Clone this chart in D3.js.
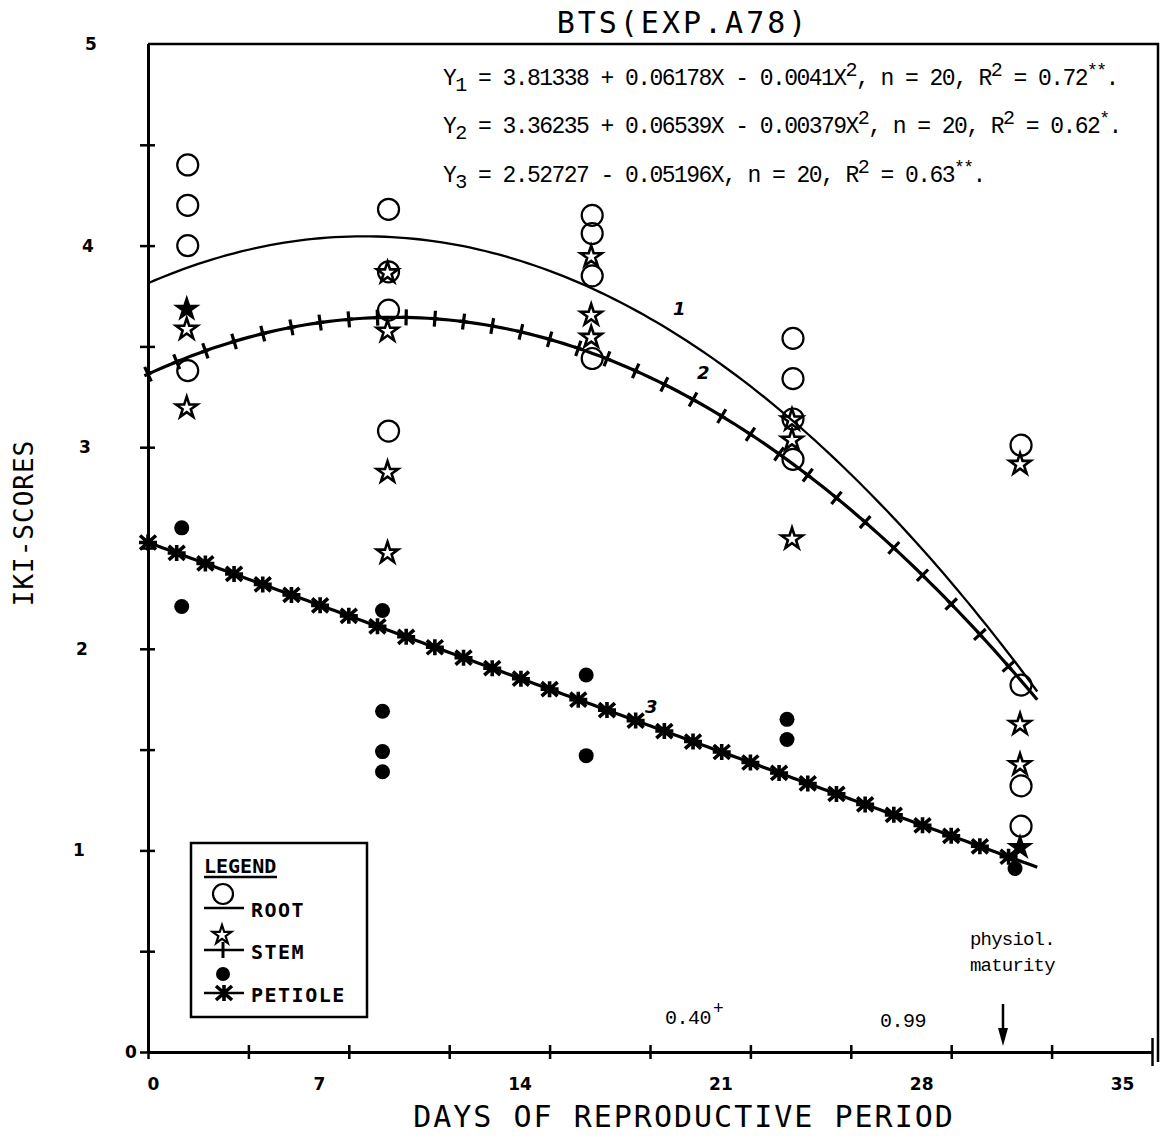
<!DOCTYPE html>
<html>
<head>
<meta charset="utf-8">
<script src="https://cdn.jsdelivr.net/npm/d3@7"></script>
<style>
  body { margin: 0; background: #fff; }
  svg { display: block; }
  .plot { font-family: "DejaVu Sans Mono", monospace; fill: #000; }
  .type { font-family: "Liberation Mono", "DejaVu Sans Mono", monospace; fill: #000; }
</style>
</head>
<body>
<div id="chart"></div>
<script>
// harvest days (x) of the five samplings
const sampleDays = [1.35, 8.35, 15.45, 22.45, 30.4];

// IKI scores per sampling
const rootScores = [
  [4.40, 4.20, 4.00, 3.38],
  [4.18, 3.87, 3.68, 3.08],
  [4.15, 4.06, 3.85, 3.44],
  [3.54, 3.34, 3.14, 2.94],
  [3.01, 1.82, 1.32, 1.12]
];
const stemScores = [
  [3.59, 3.20],
  [3.87, 3.58, 2.88, 2.48],
  [3.95, 3.66, 3.55],
  [3.14, 3.04, 2.55],
  [2.92, 1.63, 1.43]
];
const stemFilled = [[3.69], [], [], [], [1.02]];
const petioleScores = [
  [2.60, 2.21],
  [2.19, 1.69, 1.49, 1.39],
  [1.87, 1.47],
  [1.65, 1.55],
  [0.91]
];

// regression coefficients a + bX + cX^2 (from the printed equations)
const rootFit = [3.81338, 0.06178, -0.0041];
const stemFit = [3.36235, 0.06539, -0.00379];
const petioleFit = [2.52727, -0.05196, 0];
const fitEnd = 31;

const xTicks = d3.range(0, 35.01, 3.5);
const xLabels = [0, 7, 14, 21, 28, 35];
const yTicks = d3.range(0, 4.51, 0.5);
const yLabels = [0, 1, 2, 3, 4, 5];

const equations = [
  [["Y", ""], ["1", "sub"], [" = 3.81338 + 0.06178X - 0.0041X", ""], ["2", "sup"], [", n = 20, R", ""], ["2", "sup"], [" = 0.72", ""], ["**", "sup"], [".", ""]],
  [["Y", ""], ["2", "sub"], [" = 3.36235 + 0.06539X - 0.00379X", ""], ["2", "sup"], [", n = 20, R", ""], ["2", "sup"], [" = 0.62", ""], ["*", "sup"], [".", ""]],
  [["Y", ""], ["3", "sub"], [" = 2.52727 - 0.05196X, n = 20, R", ""], ["2", "sup"], [" = 0.63", ""], ["**", "sup"], [".", ""]]
];

const W = 1175, H = 1137;
const svg = d3.select("#chart").append("svg")
  .attr("width", W).attr("height", H);

const x = d3.scaleLinear().domain([0, 35]).range([148, 1152]);
const y = d3.scaleLinear().domain([0, 5]).range([1052, 44]);

const poly = (c, t) => c[0] + c[1] * t + c[2] * t * t;

// frame (top and right)
svg.append("path")
  .attr("d", `M${x(0)},${y(5)}H${x(35) + 6}V${y(0) + 10}`)
  .attr("fill", "none").attr("stroke", "#000").attr("stroke-width", 2.5);

// x axis
const xAxis = svg.append("g")
  .attr("class", "plot")
  .attr("transform", `translate(0,${y(0)})`)
  .call(d3.axisBottom(x).tickValues(xTicks).tickSizeOuter(0)
    .tickFormat(d => xLabels.includes(d) ? d : ""));
xAxis.select(".domain").attr("stroke-width", 3);
xAxis.selectAll(".tick line").attr("y1", -7).attr("y2", 7).attr("stroke-width", 2.5);
xAxis.selectAll(".tick line").filter(d => d === 35).attr("y1", -14).attr("y2", 14);
xAxis.selectAll(".tick text")
  .attr("y", 26)
  .attr("dx", d => d === 0 ? 5 : -30)
  .attr("font-size", 17).attr("font-weight", "bold")
  .attr("font-family", "DejaVu Sans, sans-serif");

// y axis
const yAxis = svg.append("g")
  .attr("transform", `translate(${x(0)},0)`)
  .call(d3.axisLeft(y).tickValues(yTicks).tickSizeOuter(0).tickFormat(""));
yAxis.select(".domain").attr("d", `M0.5,${y(5)}V${y(0)}`).attr("stroke-width", 3);
yAxis.selectAll(".tick line").attr("x1", -8).attr("x2", 7).attr("stroke-width", 2.5);

svg.selectAll(".ylab").data(yLabels).join("text")
  .attr("class", "ylab")
  .attr("x", d => d === 0 ? 131 : 76 + d * 3)
  .attr("y", d => y(d) + 6)
  .attr("text-anchor", "middle")
  .attr("font-family", "DejaVu Sans, sans-serif")
  .attr("font-weight", "bold").attr("font-size", 17)
  .text(d => d);

// titles
svg.append("text").attr("class", "plot")
  .attr("x", 683).attr("y", 33).attr("text-anchor", "middle")
  .attr("font-size", 30).attr("letter-spacing", 3)
  .text("BTS(EXP.A78)");

svg.append("text").attr("class", "plot")
  .attr("transform", "translate(33,523) rotate(-90)")
  .attr("text-anchor", "middle")
  .attr("font-size", 26).attr("letter-spacing", 1)
  .text("IKI-SCORES");

svg.append("text").attr("class", "plot")
  .attr("x", 684).attr("y", 1127).attr("text-anchor", "middle")
  .attr("font-size", 30).attr("letter-spacing", 2)
  .text("DAYS OF REPRODUCTIVE PERIOD");

// equations
const eqBase = [85, 133, 182];
equations.forEach((parts, i) => {
  const t = svg.append("text").attr("class", "type")
    .attr("x", 443).attr("y", eqBase[i])
    .attr("font-size", 23).attr("letter-spacing", -1.55);
  let shift = 0;
  parts.forEach(([s, kind]) => {
    const target = kind === "sub" ? 6 : kind === "sup" ? -9 : 0;
    const sp = t.append("tspan").text(s).attr("dy", target - shift);
    shift = target;
    if (kind) sp.attr("font-size", s.includes("*") ? 18 : 20);
  });
});

// fitted curves
const fitDays = d3.range(0, fitEnd + 0.001, 0.25);
const markerDays = d3.range(0, fitEnd, 1);
const line = c => d3.line().x(t => x(t)).y(t => y(poly(c, t)))(fitDays);

svg.append("path").attr("d", line(rootFit))
  .attr("fill", "none").attr("stroke", "#000").attr("stroke-width", 2.3);
svg.append("path").attr("d", line(stemFit))
  .attr("fill", "none").attr("stroke", "#000").attr("stroke-width", 3.2);
svg.append("path").attr("d", line(petioleFit))
  .attr("fill", "none").attr("stroke", "#000").attr("stroke-width", 3.2);

const kx = (y(0) - y(1)) / (x(1) - x(0));
svg.selectAll(".plusMark").data(markerDays).join("path")
  .attr("class", "plusMark")
  .attr("d", "M0,-8V8M-4,0H4")
  .attr("transform", t => {
    const ang = Math.atan(-(stemFit[1] + 2 * stemFit[2] * t) * kx) * 180 / Math.PI;
    return `translate(${x(t)},${y(poly(stemFit, t))}) rotate(${ang})`;
  })
  .attr("stroke", "#000").attr("stroke-width", 3.2);

svg.selectAll(".astMark").data(markerDays).join("path")
  .attr("class", "astMark")
  .attr("d", "M-8,-7L8,7M-8,7L8,-7M0,-8V8M-9,0H9")
  .attr("transform", t => `translate(${x(t)},${y(poly(petioleFit, t))})`)
  .attr("stroke", "#000").attr("stroke-width", 3.6);

// curve numbers
[["1", 673, 315], ["2", 697, 379], ["3", 645, 713]].forEach(([s, px, py]) => {
  svg.append("text").attr("x", px).attr("y", py)
    .attr("font-family", "DejaVu Sans, sans-serif").attr("font-weight", "bold")
    .attr("font-style", "italic").attr("font-size", 18).text(s);
});

// data points
const flat = (arr) => arr.flatMap((vals, i) => vals.map(v => ({ day: sampleDays[i], v })));
const star = d3.symbol(d3.symbolStar, 140);

svg.selectAll(".root").data(flat(rootScores)).join("circle")
  .attr("class", "root")
  .attr("cx", d => x(d.day) + 1).attr("cy", d => y(d.v)).attr("r", 10.5)
  .attr("fill", "none").attr("stroke", "#000").attr("stroke-width", 2.2);

svg.selectAll(".stem").data(flat(stemScores)).join("path")
  .attr("class", "stem")
  .attr("d", star)
  .attr("transform", d => `translate(${x(d.day)},${y(d.v) + 1})`)
  .attr("fill", "none").attr("stroke", "#000").attr("stroke-width", 2.6);

svg.selectAll(".stemF").data(flat(stemFilled)).join("path")
  .attr("class", "stemF")
  .attr("d", star)
  .attr("transform", d => `translate(${x(d.day)},${y(d.v) + 1})`)
  .attr("fill", "#000").attr("stroke", "#000").attr("stroke-width", 2);

svg.selectAll(".petiole").data(flat(petioleScores)).join("circle")
  .attr("class", "petiole")
  .attr("cx", d => x(d.day) - 5).attr("cy", d => y(d.v)).attr("r", 7.5)
  .attr("fill", "#000");

// notes near the axis
const notes = [["0.40", 665, 1024], ["0.99", 880, 1027]];
notes.forEach(([s, px, py]) => {
  svg.append("text").attr("class", "type").attr("x", px).attr("y", py)
    .attr("font-size", 20).attr("letter-spacing", -0.5).text(s);
});
svg.append("text").attr("class", "type").attr("x", 713).attr("y", 1014)
  .attr("font-size", 18).text("+");
svg.append("text").attr("class", "type").attr("x", 970).attr("y", 945)
  .attr("font-size", 19).attr("letter-spacing", -0.8).text("physiol.");
svg.append("text").attr("class", "type").attr("x", 970).attr("y", 971)
  .attr("font-size", 19).attr("letter-spacing", -0.8).text("maturity");

// maturity arrow
svg.append("path").attr("d", "M1003,1004V1032")
  .attr("stroke", "#000").attr("stroke-width", 2.5);
svg.append("path").attr("d", "M998,1028L1008,1028L1003,1046Z").attr("fill", "#000");

// legend
const lg = svg.append("g").attr("class", "plot");
lg.append("rect").attr("x", 191).attr("y", 843).attr("width", 176).attr("height", 174)
  .attr("fill", "#fff").attr("stroke", "#000").attr("stroke-width", 2.5);
lg.append("text").attr("x", 204).attr("y", 873)
  .attr("font-size", 20).attr("font-weight", "bold")
  .text("LEGEND");
lg.append("path").attr("d", "M204,877H277").attr("stroke", "#000").attr("stroke-width", 2.5);

const legRows = [
  { label: "ROOT", ly: 908, ty: 917 },
  { label: "STEM", ly: 950, ty: 959 },
  { label: "PETIOLE", ly: 993, ty: 1002 }
];
legRows.forEach(r => {
  lg.append("path").attr("d", `M204,${r.ly}H244`).attr("stroke", "#000").attr("stroke-width", 2.5);
  lg.append("text").attr("x", 251).attr("y", r.ty)
    .attr("font-size", 20).attr("font-weight", "bold").attr("letter-spacing", 1.5)
    .text(r.label);
});
lg.append("circle").attr("cx", 223).attr("cy", 894).attr("r", 10)
  .attr("fill", "none").attr("stroke", "#000").attr("stroke-width", 2.2);
lg.append("path").attr("d", d3.symbol(d3.symbolStar, 110))
  .attr("transform", "translate(222,935)")
  .attr("fill", "none").attr("stroke", "#000").attr("stroke-width", 2.2);
lg.append("path").attr("d", "M0,-8V8").attr("transform", "translate(223,950)")
  .attr("stroke", "#000").attr("stroke-width", 3);
lg.append("circle").attr("cx", 223).attr("cy", 974).attr("r", 7)
  .attr("fill", "#000");
lg.append("path").attr("d", "M-8,-7L8,7M-8,7L8,-7M0,-8V8")
  .attr("transform", "translate(224,993)")
  .attr("stroke", "#000").attr("stroke-width", 3.6);
</script>
</body>
</html>
